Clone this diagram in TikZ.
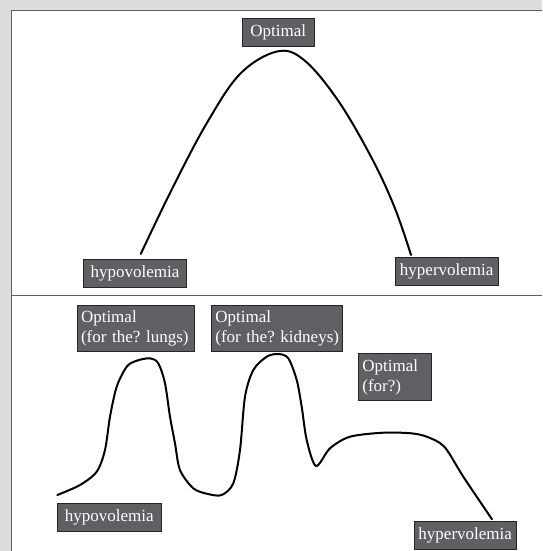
\documentclass[tikz,border=0pt]{standalone}
\usepackage{fontspec}
\setmainfont{Liberation Serif}
\definecolor{bggrey}{HTML}{DCDDDF}
\definecolor{boxgrey}{HTML}{5F6063}
\definecolor{rulegrey}{HTML}{606060}
\tikzset{
  lbl/.style={draw=black!85, line width=0.9pt, fill=boxgrey, text=white, inner xsep=4pt, inner ysep=0pt,
    font=\fontsize{17}{20}\selectfont\frenchspacing, anchor=center},
  onel/.style={lbl, minimum height=28pt, align=center},
  twol/.style={lbl, minimum height=46.7pt, align=left},
  curve/.style={line width=2pt, black, line cap=round, line join=round}
}
\begin{document}
\begin{tikzpicture}[x=1pt,y=-1pt]
\useasboundingbox (0,0) rectangle (542,551);
\fill[bggrey] (0,0) rectangle (542,551);
\fill[white] (11.7,10.3) rectangle (542,551);
\draw[rulegrey, line width=1pt] (542,10.3) -- (11.7,10.3) -- (11.7,551);
\draw[rulegrey, line width=1.3pt] (11.7,295.3) -- (542,295.3);

% top panel
\draw[curve] plot[smooth, tension=0.6] coordinates {
 (140.7,254) (173,187) (206.7,123.3) (240,74) (277,51.5)
 (304,60) (337.7,100) (371,156.7) (394.3,206.7) (411,255)};
\node[onel, minimum width=72pt] (opt) at (278.3,32.2) {Optimal};
\node[onel, minimum width=103.4pt] (hypoA) at (135,273.3) {hypovolemia};
\node[onel, minimum width=103.3pt] (hyperA) at (446.7,271.5) {hypervolemia};

% bottom panel
\draw[curve] plot[smooth, tension=0.5] coordinates {
 (57.3,495) (80,485) (96.7,471.7) (105,450) (110,416.7) (116.7,386.7) (126.7,366.7)
 (136.7,360.7) (150,358.3) (158.3,363.3) (165,383.3) (170,416.7) (175,443.3) (180,470)
 (193.3,488.3) (208,494) (221.7,495) (233.3,483.3) (240,450) (245,396.7) (253.3,370)
 (266.7,356.7) (278.3,354) (288.3,358.3) (296.7,380) (301.7,406.7) (306.7,440)
 (316,466) (330,448.3) (350,436.7) (383.3,432.7) (411,433.3) (426.7,436.7)
 (444.3,446.7) (463.3,476.7) (492,519.3)};
\node[twol, text width=109pt] (lungs) at (135.5,328.3) {\mbox{Optimal}\\\mbox{(for the? lungs)}};
\node[twol, text width=122.7pt] (kid) at (276.7,328.3) {\mbox{Optimal}\\\mbox{(for the? kidneys)}};
\node[twol, text width=64.7pt] (forq) at (394.7,377) {\mbox{Optimal}\\\mbox{(for?)}};
\node[onel, minimum width=103.7pt] (hypoB) at (109.2,517.8) {hypovolemia};
\node[onel, minimum width=101.7pt] (hyperB) at (465.2,535.2) {hypervolemia};
\end{tikzpicture}
\end{document}
